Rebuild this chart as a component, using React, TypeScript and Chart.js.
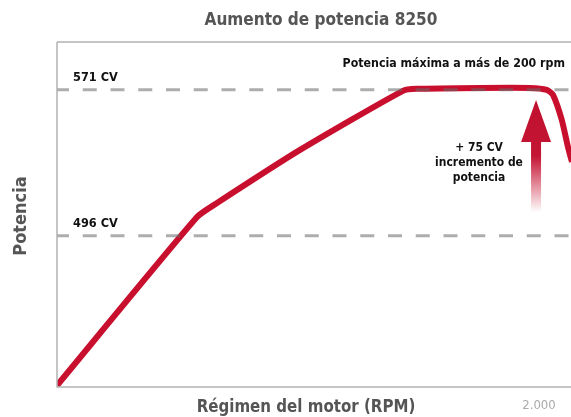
import React, { useEffect, useRef } from "react";
import { Chart, registerables } from "chart.js";

Chart.register(...registerables);

const TITLE = "Aumento de potencia 8250";
const X_TITLE = "Régimen del motor (RPM)";
const Y_TITLE = "Potencia";
const X_END_LABEL = "2.000";
const PEAK_NOTE = "Potencia máxima a más de 200 rpm";
const GAIN_NOTE = ["+ 75 CV", "incremento de", "potencia"];

const refLevels = [571, 496];
const refLabels = ["571 CV", "496 CV"];

const curveX = [0, 27.24, 31.13, 47.28, 67.3, 70.0, 82.3, 92.0, 95.3, 96.5, 98.2, 99.4, 100.2, 101.5];
const curveY = [419, 505.6, 512.8, 540.1, 570.5, 571.5, 572, 572, 571, 568.4, 555.6, 541.7, 534, 524];

const arrowX = 93.2;
const arrowTop = 565.8;
const arrowBottom = 508;

const FONT = '"DejaVu Sans Condensed", "DejaVu Sans", Arial, sans-serif';

function txt(ctx: CanvasRenderingContext2D, s: string, x: number, y: number, font: string, sx: number, align: CanvasTextAlign) {
  ctx.save();
  ctx.font = font;
  ctx.textAlign = align;
  ctx.textBaseline = "middle";
  ctx.translate(x, y);
  ctx.scale(sx, 1);
  ctx.fillText(s, 0, 0);
  ctx.restore();
}

export default function App() {
  const ref = useRef<HTMLCanvasElement>(null);
  useEffect(() => {
    document.body.style.margin = "0";
    const canvas = ref.current!;
    const overlay = {
      id: "overlay",
      afterDatasetsDraw(chart: any) {
        const { ctx, chartArea, scales } = chart;
        const xs = scales.x, ys = scales.y;
        ctx.save();
        ctx.strokeStyle = "#b3b3b3";
        ctx.lineWidth = 1.5;
        ctx.beginPath();
        ctx.moveTo(chartArea.left, chartArea.top);
        ctx.lineTo(chartArea.left, chartArea.bottom);
        ctx.lineTo(chartArea.right, chartArea.bottom);
        ctx.moveTo(chartArea.left, chartArea.top);
        ctx.lineTo(chartArea.right, chartArea.top);
        ctx.stroke();

        const ax = xs.getPixelForValue(arrowX);
        const ty = ys.getPixelForValue(arrowTop);
        const by = ys.getPixelForValue(arrowBottom);
        const headH = 42, headW = 15, shaftW = 5;
        const g = ctx.createLinearGradient(0, ty, 0, by);
        g.addColorStop(0, "#c0102e");
        g.addColorStop(0.5, "#c41535");
        g.addColorStop(1, "rgba(200,16,46,0)");
        ctx.fillStyle = g;
        ctx.beginPath();
        ctx.moveTo(ax, ty);
        ctx.lineTo(ax + headW, ty + headH);
        ctx.lineTo(ax + shaftW, ty + headH);
        ctx.lineTo(ax + shaftW, by);
        ctx.lineTo(ax - shaftW, by);
        ctx.lineTo(ax - shaftW, ty + headH);
        ctx.lineTo(ax - headW, ty + headH);
        ctx.closePath();
        ctx.fill();

        ctx.fillStyle = "#111";
        refLevels.forEach((v, i) => {
          txt(ctx, refLabels[i], chartArea.left + 16, ys.getPixelForValue(v) - 12, `bold 13px ${FONT}`, 0.97, "left");
        });
        txt(ctx, PEAK_NOTE, chartArea.right - 6, 64, `bold 13px ${FONT}`, 0.945, "right");
        GAIN_NOTE.forEach((t, i) => {
          txt(ctx, t, 479, 148 + i * 15, `bold 13px ${FONT}`, 0.92, "center");
        });

        ctx.fillStyle = "#555";
        txt(ctx, TITLE, 321, 20, `bold 18px ${FONT}`, 0.947, "center");
        txt(ctx, X_TITLE, 306, 407, `bold 18px ${FONT}`, 0.93, "center");
        ctx.fillStyle = "#aaa";
        txt(ctx, X_END_LABEL, 539, 406, `13px ${FONT}`, 1, "center");
        ctx.save();
        ctx.translate(21, 216);
        ctx.rotate(-Math.PI / 2);
        ctx.fillStyle = "#555";
        txt(ctx, Y_TITLE, 0, 0, `bold 18px ${FONT}`, 1, "center");
        ctx.restore();
        ctx.restore();
      },
    };
    const chart = new Chart(canvas, {
      type: "line",
      data: {
        datasets: [
          ...refLevels.map((v) => ({
            data: [{ x: 0, y: v }, { x: 101.5, y: v }],
            borderColor: "rgba(105,105,105,0.55)",
            borderWidth: 3,
            borderDash: [14, 13.75],
            borderDashOffset: 2,
            pointRadius: 0,
            fill: false,
          })),
          {
            data: curveX.map((x, i) => ({ x, y: curveY[i] })),
            borderColor: "#c8102e",
            borderWidth: 6,
            pointRadius: 0,
            tension: 0.2,
            fill: false,
          },
        ],
      },
      options: {
        animation: false,
        responsive: false,
        layout: { padding: { left: 57, top: 42, right: 0, bottom: 30 } },
        plugins: { legend: { display: false }, tooltip: { enabled: false } },
        scales: {
          x: { type: "linear", min: 0, max: 100, display: false },
          y: { type: "linear", min: 418.2, max: 595.6, display: false },
        },
      },
      plugins: [overlay],
    });
    return () => chart.destroy();
  }, []);
  return (
    <div style={{ position: "absolute", left: 0, top: 0, width: 571, height: 417, background: "#fff" }}>
      <canvas ref={ref} width={571} height={417} />
    </div>
  );
}
